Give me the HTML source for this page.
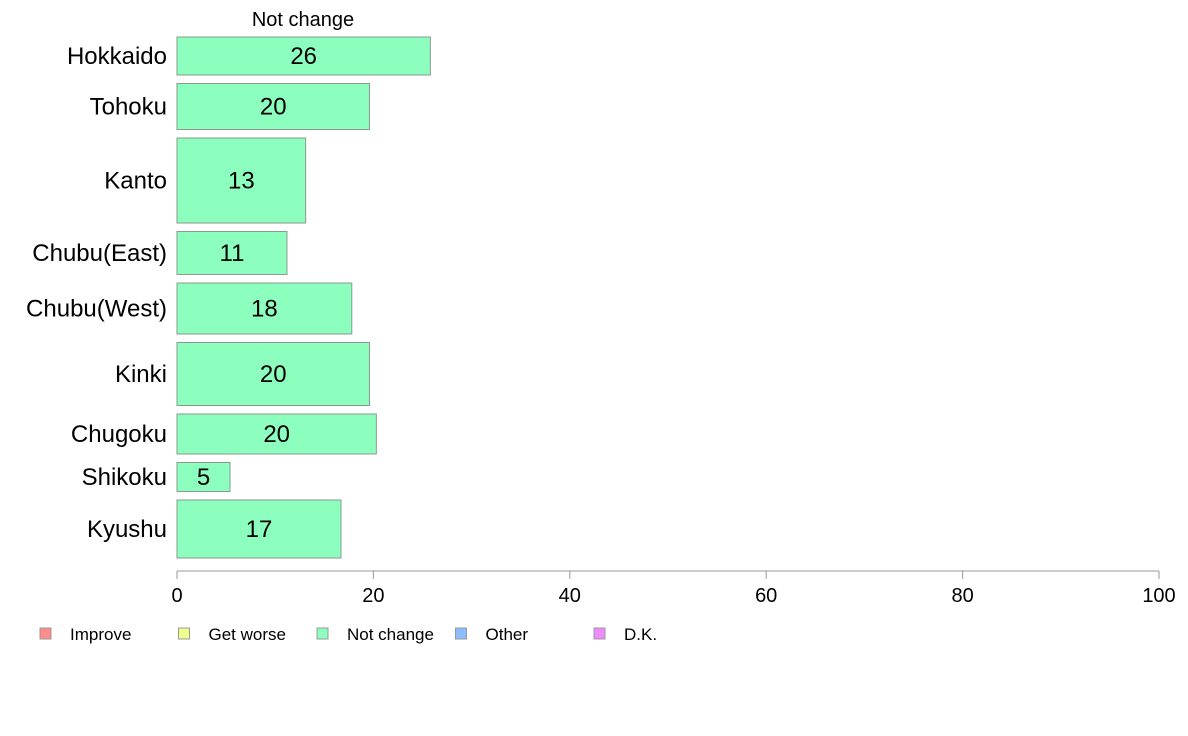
<!DOCTYPE html>
<html><head><meta charset="utf-8"><style>
body{margin:0;background:#fff;}
svg{display:block;font-family:"Liberation Sans",Arial,sans-serif;}
</style></head><body>
<svg id="chart" width="1188" height="736">
<text x="303" y="26" font-size="20" text-anchor="middle">Not change</text>
<g id="bars"></g>
<g id="axis"></g>
<g id="legend"></g>
</svg>
<script>
const categories=["Hokkaido","Tohoku","Kanto","Chubu(East)","Chubu(West)","Kinki","Chugoku","Shikoku","Kyushu"];
const values=[25.8,19.6,13.1,11.2,17.8,19.6,20.3,5.4,16.7];
const labels=["26","20","13","11","18","20","20","5","17"];
const sampleWeights=[38,46,85,43,51,63,40,29,58];
const ticks=[0,20,40,60,80,100];
const legendItems=["Improve","Get worse","Not change","Other","D.K."];
const legendColors=["#ff8c8c","#eeff8c","#8cffbe","#8cbeff","#ee8cff"];
const NS="http://www.w3.org/2000/svg";
const x0=177,x1=1159,yTop=37,yBot=558,gap=8.5;
const xs=v=>x0+(x1-x0)*v/100;
function mk(t,a,p){const e=document.createElementNS(NS,t);for(const k in a)e.setAttribute(k,a[k]);p.appendChild(e);return e;}
const bars=document.getElementById('bars');
const totalW=sampleWeights.reduce((a,b)=>a+b,0);
const scaleH=(yBot-yTop-gap*(categories.length-1))/totalW;
let y=yTop;
categories.forEach((c,i)=>{
 const h=sampleWeights[i]*scaleH;
 const r=mk('rect',{x:x0,y:y,width:xs(values[i])-x0,height:h,fill:"#8cffbe",stroke:"#8a9a90","stroke-width":1},bars);
 
 
 const t=mk('text',{x:(x0+xs(values[i]))/2,y:y+h/2+8,"font-size":24,"text-anchor":"middle"},bars);
 t.textContent=labels[i];
 
 
 const l=mk('text',{x:167,y:y+h/2+8,"font-size":24,"text-anchor":"end"},bars);
 l.textContent=c;
 
 
 y+=h+gap;
});
const ax=document.getElementById('axis');
const al=mk('line',{x1:x0,x2:x1,y1:571,y2:571,stroke:"#999","stroke-width":1},ax);


ticks.forEach(v=>{
 const tl=mk('line',{x1:xs(v),x2:xs(v),y1:571,y2:579,stroke:"#999"},ax);
 
 
 const tt=mk('text',{x:xs(v),y:602,"font-size":20,"text-anchor":"middle"},ax);
 tt.textContent=v;
 
 
});
const lg=document.getElementById('legend');
legendItems.forEach((n,i)=>{
 const bx=40+i*138.5;
 const s=mk('rect',{x:bx,y:628,width:11,height:11,fill:legendColors[i],stroke:"#999"},lg);
 
 
 const t=mk('text',{x:bx+30,y:640,"font-size":17},lg);
 t.textContent=n;
 
 
});
</script>
</body></html>
